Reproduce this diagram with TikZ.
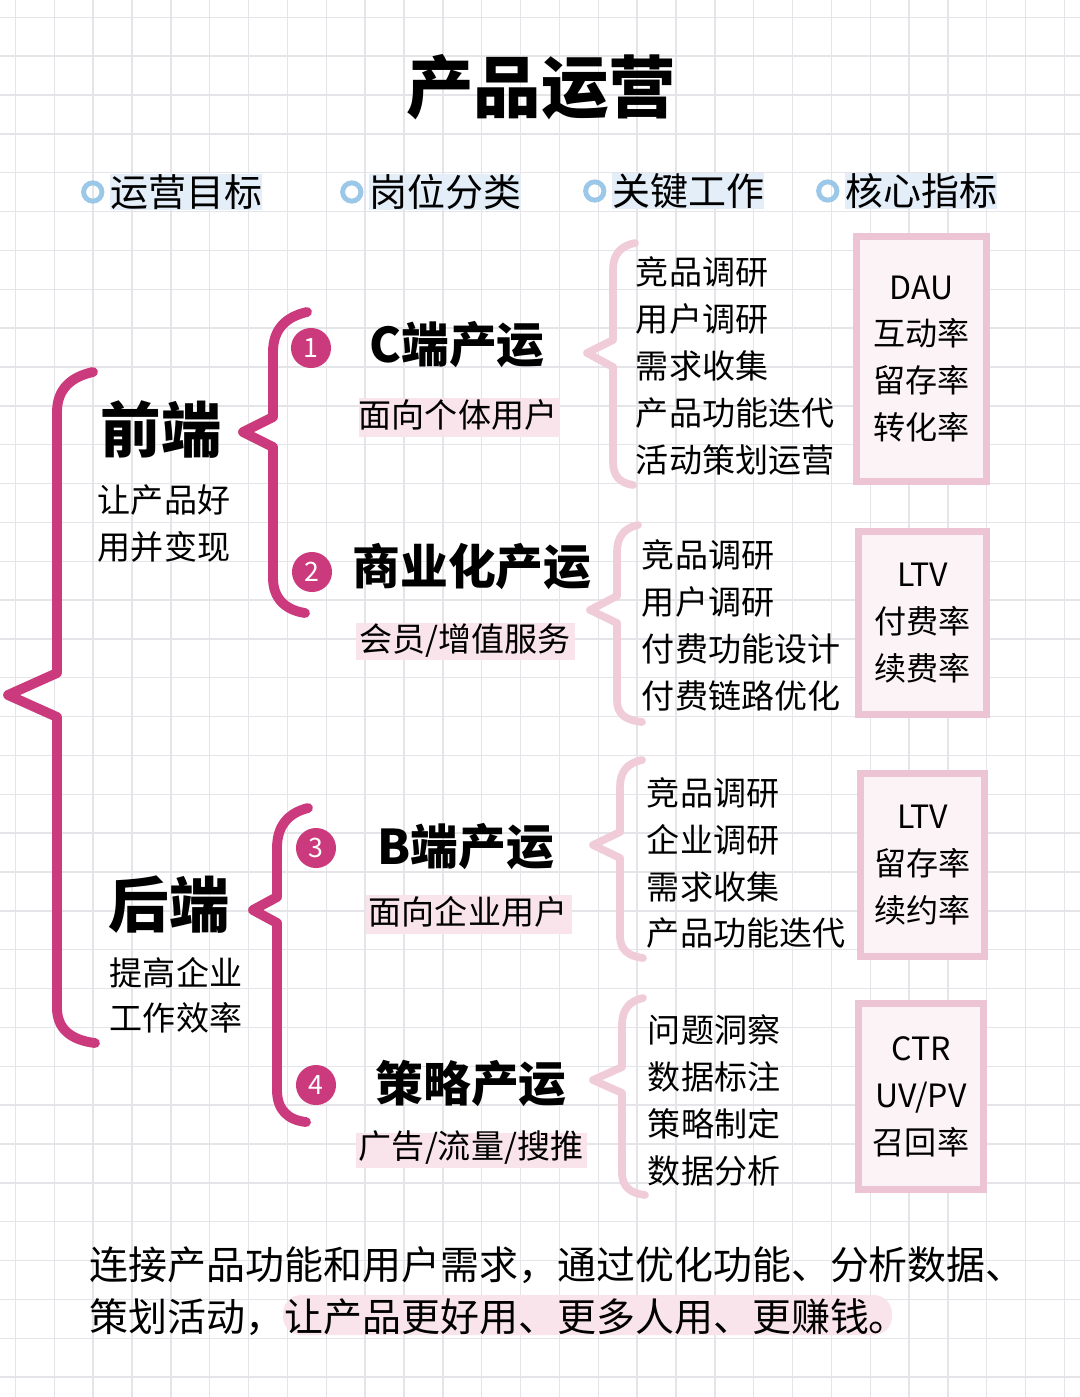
\documentclass[tikz,border=0pt]{standalone}
\usepackage{fontspec}
\setmainfont{Noto Sans CJK SC}
\usepackage{tikz}
\usetikzlibrary{positioning}

\definecolor{brmag}{RGB}{204,58,126}
\definecolor{brpink}{RGB}{240,204,217}
\definecolor{boxpink}{RGB}{236,196,211}
\definecolor{hlpink}{RGB}{249,228,236}
\definecolor{hlblue}{RGB}{228,238,248}
\definecolor{dotblue}{RGB}{155,199,232}
\definecolor{gridgray}{RGB}{229,229,233}

\begin{document}
\begin{tikzpicture}[x=0.025cm, y=-0.025cm,
  gridline/.style={draw=gridgray, line width=1pt},
  bigbrace/.style={draw=brmag, line width=7pt, line cap=round, line join=round},
  softbrace/.style={draw=brpink, line width=5.5pt, line cap=round, line join=round},
  hdot/.style={circle, draw=dotblue, line width=3.5pt, minimum size=13pt, inner sep=0pt},
  hdtext/.style={fill=hlblue, inner sep=0pt, font=\fontsize{27}{27}\selectfont},
  numdot/.style={circle, fill=brmag, minimum size=28.5pt, inner sep=0pt, text=white, font=\fontsize{19}{19}\selectfont},
  hand/.style={font=\fontsize{34}{34}\selectfont\bfseries},
  sub/.style={font=\fontsize{23.5}{23.5}\selectfont},
  item/.style={align=left, anchor=west, font=\fontsize{23.5}{33.4}\selectfont},
  metric/.style={draw=boxpink, line width=5pt, fill=hlpink!45, align=center, font=\fontsize{22.8}{33.4}\selectfont}
]
  % paper
  \fill[white] (0,0) rectangle (1080,1397);
  \useasboundingbox (0,0) rectangle (1080,1397);
  \foreach \i in {0,...,27} \draw[gridline] ({15.5+38.85*\i},0) -- ({15.5+38.85*\i},1397);
  \foreach \j in {0,...,35} \draw[gridline] (0,{17.3+38.85*\j}) -- (1080,{17.3+38.85*\j});

  % title
  \node[font=\fontsize{48}{48}\selectfont\bfseries] (title) at (541,87) {产品运营};

  % column heads
  \node[hdtext, anchor=west] (head1) at (110,192) {运营目标};
  \node[hdtext, anchor=west] (head2) at (369,192) {岗位分类};
  \node[hdtext, anchor=west] (head3) at (612,191) {关键工作};
  \node[hdtext, anchor=west] (head4) at (845,191) {核心指标};
  \node[hdot, left=4pt of head1] (dot1) {};
  \node[hdot, left=4pt of head2] (dot2) {};
  \node[hdot, left=4pt of head3] (dot3) {};
  \node[hdot, left=4pt of head4] (dot4) {};

  % big brace
  \draw[bigbrace] (93,372) .. controls (70,377) and (57,390) .. (57,412) -- (57,673) -- (8,695) -- (57,717) -- (57,1008) .. controls (57,1028) and (70,1040) .. (95,1043);

  % front end
  \node[font=\fontsize{43}{43}\selectfont\bfseries] (front) at (161,430) {前端};
  \node[sub, align=center, font=\fontsize{23.5}{33.4}\selectfont] (frontgoal) at (164,524) {让产品好\\用并变现};
  \draw[bigbrace] (307,312) .. controls (285,317) and (273,330) .. (273,352) -- (273,417) -- (243,432) -- (273,447) -- (273,578) .. controls (273,598) and (285,610) .. (305,613);

  % back end
  \node[font=\fontsize{43}{43}\selectfont\bfseries] (back) at (169,905) {后端};
  \node[sub, align=center, font=\fontsize{23.5}{32}\selectfont] (backgoal) at (176,995) {提高企业\\工作效率};
  \draw[bigbrace] (308,808) .. controls (288,813) and (277,826) .. (277,848) -- (277,897) -- (253,910) -- (277,923) -- (277,1090) .. controls (277,1110) and (288,1120) .. (306,1122);

  % role 1
  \node[numdot] (n1) at (311,348) {1};
  \node[hand] (role1) at (457,345) {C端产运};
  \fill[hlpink] (359,398) rectangle (560,437);
  \node[sub] (tag1) at (458,415) {面向个体用户};
  \draw[softbrace] (635,243) .. controls (620,246) and (613,255) .. (613,270) -- (613,340) -- (587,353) -- (613,367) -- (613,462) .. controls (613,476) and (620,483) .. (633,485);
  \node[item] (work1) at (631,366) {竞品调研\\用户调研\\需求收集\\产品功能迭代\\活动策划运营};
  \node[metric, minimum width=92.5pt, minimum height=174pt] (kpi1) at (921.5,359) {DAU\\互动率\\留存率\\转化率};

  % role 2
  \node[numdot] (n2) at (312,572) {2};
  \node[hand] (role2) at (472,567) {商业化产运};
  \fill[hlpink] (356,623) rectangle (575,660);
  \node[sub] (tag2) at (465,641) {会员/增值服务};
  \draw[softbrace] (638,525) .. controls (624,528) and (617,537) .. (617,552) -- (617,596) -- (590,610) -- (617,623) -- (617,700) .. controls (617,714) and (625,720) .. (642,722);
  \node[item] (work2) at (637,625) {竞品调研\\用户调研\\付费功能设计\\付费链路优化};
  \node[metric, minimum width=91pt, minimum height=130pt] (kpi2) at (922.5,623) {LTV\\付费率\\续费率};

  % role 3
  \node[numdot] (n3) at (316,848) {3};
  \node[hand] (role3) at (466,847) {B端产运};
  \fill[hlpink] (366,895) rectangle (572,934);
  \node[sub] (tag3) at (468,912) {面向企业用户};
  \draw[softbrace] (642,760) .. controls (627,763) and (620,772) .. (620,787) -- (620,832) -- (593,845) -- (620,858) -- (620,935) .. controls (620,950) and (628,956) .. (643,958);
  \node[item] (work3) at (642,863) {竞品调研\\企业调研\\需求收集\\产品功能迭代};
  \node[metric, minimum width=88pt, minimum height=130pt] (kpi3) at (922.5,865) {LTV\\留存率\\续约率};

  % role 4
  \node[numdot] (n4) at (316,1085) {4};
  \node[hand] (role4) at (471,1083) {策略产运};
  \fill[hlpink] (356,1133) rectangle (587,1168);
  \node[sub] (tag4) at (471,1148) {广告/流量/搜推};
  \draw[softbrace] (643,998) .. controls (629,1001) and (622,1010) .. (622,1025) -- (622,1067) -- (593,1080) -- (622,1093) -- (622,1172) .. controls (622,1187) and (630,1193) .. (645,1195);
  \node[item] (work4) at (643,1100) {问题洞察\\数据标注\\策略制定\\数据分析};
  \node[metric, minimum width=89pt, minimum height=132pt] (kpi4) at (921,1096.5) {CTR\\UV/PV\\召回率};

  % summary
  \fill[hlpink, rounded corners=13pt] (283,1295) rectangle (892,1335);
  \node[align=left, anchor=west, font=\fontsize{27.7}{37}\selectfont] (summary) at (85,1291) {连接产品功能和用户需求，通过优化功能、分析数据、\\策划活动，让产品更好用、更多人用、更赚钱。};
\end{tikzpicture}
\end{document}
